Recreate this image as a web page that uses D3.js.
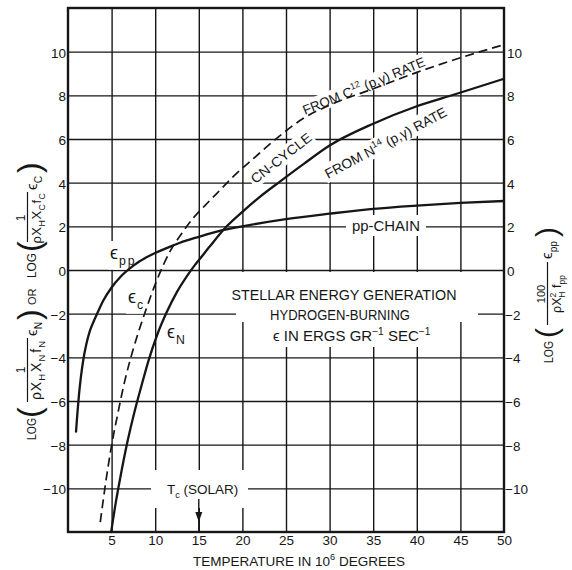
<!DOCTYPE html>
<html><head><meta charset="utf-8">
<script src="https://cdn.jsdelivr.net/npm/d3@7/dist/d3.min.js"></script>
<style>
body{margin:0;background:#fff;}
svg text{font-family:"Liberation Sans",Arial,Helvetica,sans-serif;fill:#161616;}
</style></head><body>
<svg id="chart" width="572" height="570"></svg>
<script>
// ---- data ----
const xTicks=[5,10,15,20,25,30,35,40,45,50];
const xGrid=[5,10,15,20,25,30,35,40,45];
const yTicks=[-10,-8,-6,-4,-2,0,2,4,6,8,10];

// pp-chain (solid)
const ppT  =[0.92,1.07,1.25,1.45,1.76,2.1,2.5,3.0,3.4,4.05,5,6,7.5,9,10,11.3,12.84,15,17.5,20,25,30,35,40,45,50];
const ppLog=[-7.4,-6.6,-5.75,-5.0,-4.1,-3.4,-2.8,-2.3,-1.95,-1.4,-0.8,-0.32,0.2,0.58,0.78,1.0,1.25,1.52,1.8,2.0,2.33,2.58,2.8,2.95,3.07,3.16];
// CN-cycle from C12(p,gamma) (dashed)
const cT  =[3.7,4.3,5.0,5.7,6.5,7.5,8.8,10.2,11.7,13,14.4,15.7,17.05,19,21.25,24,27,30,35,40,45,50];
const cLog=[-11.55,-9.8,-8.03,-6.6,-5.1,-3.6,-1.98,-0.46,0.85,1.65,2.4,2.95,3.5,4.3,5.1,6.05,6.95,7.55,8.3,9.05,9.72,10.32];
// CN-cycle from N14(p,gamma) (solid)
const nT  =[4.95,5.5,6.0,6.73,7.5,8.6,9.2,10.2,11.3,12.5,13.6,14.5,15.1,16.3,18.2,20.1,22,24.3,27,30,35,40,44.4,50];
const nLog=[-12,-10.6,-9.5,-8.03,-6.7,-5.05,-4.2,-3.0,-1.95,-1.0,-0.3,0.2,0.5,1.1,2.0,2.7,3.35,4.05,4.85,5.7,6.7,7.5,8.05,8.76];

const solarT=15;

// ---- drawing ----
const svg=d3.select("#chart");
const x=d3.scaleLinear().domain([0,50]).range([68,504]);
const y=d3.scaleLinear().domain([-12,12]).range([532,8]);
const ink="#161616";

const gridG=svg.append("g");
const maskG=svg.append("g");
const curveG=svg.append("g");
const frameG=svg.append("g");
const labelG=svg.append("g");

// grid lines
gridG.append("g").attr("transform",`translate(0,${y(-12)})`)
 .call(d3.axisBottom(x).tickValues(xGrid).tickSize(-(y(-12)-y(12))).tickFormat(""))
 .call(g=>g.select(".domain").remove())
 .call(g=>g.selectAll("line").attr("stroke",ink).attr("stroke-width",1.4));
gridG.append("g").attr("transform",`translate(${x(0)},0)`)
 .call(d3.axisLeft(y).tickValues(yTicks).tickSize(-(x(50)-x(0))).tickFormat(""))
 .call(g=>g.select(".domain").remove())
 .call(g=>g.selectAll("line").attr("stroke",ink).attr("stroke-width",1.4));

// tick labels
const fmt=d=>d<0?"\u2212"+(-d):String(d);
frameG.append("g").attr("transform",`translate(0,${y(-12)})`)
 .call(d3.axisBottom(x).tickValues(xTicks).tickSize(0).tickPadding(3))
 .call(g=>g.select(".domain").remove())
 .call(g=>g.selectAll("text").attr("font-size",13.5).attr("fill",ink));
frameG.append("g").attr("transform",`translate(${x(0)},0)`)
 .call(d3.axisLeft(y).tickValues(yTicks).tickSize(0).tickPadding(2).tickFormat(fmt))
 .call(g=>g.select(".domain").remove())
 .call(g=>g.selectAll("text").attr("font-size",13.5).attr("dy","0.4em").attr("fill",ink));
frameG.append("g").attr("transform",`translate(${x(50)},0)`)
 .call(d3.axisRight(y).tickValues(yTicks).tickSize(0).tickPadding(3).tickFormat(fmt))
 .call(g=>g.select(".domain").remove())
 .call(g=>g.selectAll("text").attr("font-size",13.5).attr("dy","0.4em").attr("fill",ink)
   .attr("dx",d=>d<0?-2:0));

// frame
frameG.append("rect").attr("x",x(0)).attr("y",y(12)).attr("width",x(50)-x(0)).attr("height",y(-12)-y(12))
 .attr("fill","none").attr("stroke",ink).attr("stroke-width",2.4);

// curves
const line=d3.line().x(d=>x(d[0])).y(d=>y(d[1])).curve(d3.curveMonotoneX);
curveG.append("path").datum(d3.zip(ppT,ppLog)).attr("d",line)
 .attr("fill","none").attr("stroke",ink).attr("stroke-width",2.3).attr("stroke-linecap","round");
curveG.append("path").datum(d3.zip(nT,nLog)).attr("d",line)
 .attr("fill","none").attr("stroke",ink).attr("stroke-width",2.3).attr("stroke-linecap","round");
curveG.append("path").datum(d3.zip(cT,cLog)).attr("d",line)
 .attr("fill","none").attr("stroke",ink).attr("stroke-width",1.7).attr("stroke-dasharray","9,5");

// helpers
function rich(parent,parts,size,attrs){
  const t=parent.append("text").attr("font-size",size);
  if(attrs) Object.entries(attrs).forEach(([k,v])=>t.attr(k,v));
  let cur=0;
  parts.forEach(p=>{
    const [s,k,dx,ls]=p;
    const off=k==="sub"?size*0.32:k==="sup"?-size*0.42:0;
    const fs=k==="n"?size:size*0.68;
    const ts=t.append("tspan").attr("dy",off-cur).attr("font-size",fs).text(s);
    if(dx) ts.attr("dx",dx);
    if(ls) ts.attr("letter-spacing",ls);
    cur=off;
  });
  return t;
}
function label(transform,build,padX,padY){
  const g=labelG.append("g").attr("transform",transform);
  build(g);
  const b=g.node().getBBox();
  maskG.append("rect").attr("transform",transform)
   .attr("x",b.x-padX).attr("y",b.y-padY).attr("width",b.width+2*padX).attr("height",b.height+2*padY)
   .attr("fill","#fff");
  return g;
}
function mask(x0,y0,x1,y1){maskG.append("rect").attr("x",x0).attr("y",y0).attr("width",x1-x0).attr("height",y1-y0).attr("fill","#fff");}

// curve labels
label("translate(110,259)",g=>rich(g,[["\u03f5","n"],["pp","sub",1,2]],18),2,2);
label("translate(128,303)",g=>rich(g,[["\u03f5","n"],["c","sub",1]],18),2,2);
label("translate(167,338)",g=>rich(g,[["\u03f5","n"],["N","sub",1]],18),2,2);
label("translate(281,158) rotate(-38)",g=>g.append("text").attr("font-size",13.5).attr("text-anchor","middle")
  .attr("dy","0.36em").attr("textLength",73).attr("lengthAdjust","spacingAndGlyphs").text("CN-CYCLE"),2,1);
label("translate(328,179) rotate(-28)",g=>rich(g,[["FROM N","n"],["14","sup"],[" (p,\u03b3) RATE","n"]],13.8),2,1);
label("translate(305,115) rotate(-22.2)",g=>rich(g,[["FROM C","n"],["12","sup"],[" (p,\u03b3) RATE","n"]],13.3),2,0);
label("translate(352,231)",g=>g.append("text").attr("font-size",15).attr("textLength",68)
  .attr("lengthAdjust","spacingAndGlyphs").text("pp-CHAIN"),6,2);

// central title block
mask(236,272,478,322); mask(268,322,428,347);
labelG.append("text").attr("x",344).attr("y",300).attr("font-size",15).attr("text-anchor","middle")
 .attr("textLength",225).attr("lengthAdjust","spacingAndGlyphs").text("STELLAR ENERGY GENERATION");
labelG.append("text").attr("x",340).attr("y",320).attr("font-size",15).attr("text-anchor","middle")
 .attr("textLength",140).attr("lengthAdjust","spacingAndGlyphs").text("HYDROGEN-BURNING");
rich(labelG,[["\u03f5 IN ERGS GR","n"],["\u22121","sup"],[" SEC","n"],["\u22121","sup"]],15,{x:273,y:341});

// solar central temperature marker
mask(151,470,248,508);
rich(labelG,[["T","n"],["c","sub"],[" (SOLAR)","n"]],13.5,{x:167,y:494});
labelG.append("line").attr("x1",x(solarT)).attr("x2",x(solarT)).attr("y1",499).attr("y2",y(-12))
 .attr("stroke",ink).attr("stroke-width",1.4);
labelG.append("path").attr("d",`M${x(solarT)-3.5},512 L${x(solarT)+3.5},512 L${x(solarT)},522 Z`).attr("fill",ink);

// x axis title
rich(labelG,[["TEMPERATURE IN 10","n"],["6","sup"],[" DEGREES","n"]],13.5,{x:193,y:566});

// left axis title (rotated)
const yl=labelG.append("g").attr("transform","translate(36,440) rotate(-90)");
function paren(g,xx,s,size){g.append("text").attr("x",xx).attr("y",size*0.13).attr("font-size",size).attr("font-weight",300).text(s);}
yl.append("text").attr("x",0).attr("y",0).attr("font-size",13).attr("textLength",22).attr("lengthAdjust","spacingAndGlyphs").text("LOG");
paren(yl,22,"(",32);
yl.append("text").attr("x",70).attr("y",-11).attr("font-size",12).attr("text-anchor","middle").text("1");
yl.append("line").attr("x1",38).attr("x2",102).attr("y1",-8.5).attr("y2",-8.5).attr("stroke",ink).attr("stroke-width",1.2);
rich(yl,[["\u03c1X","n"],["H","sub"],["X","n",1],["N","sub"],["f","n",1],["N","sub"]],14,{x:70,y:5,"text-anchor":"middle","letter-spacing":1});
rich(yl,[["\u03f5","n"],["N","sub"]],15,{x:104,y:1});
paren(yl,120,")",32);
yl.append("text").attr("x",135).attr("y",0).attr("font-size",11).text("OR");
yl.append("text").attr("x",162).attr("y",0).attr("font-size",13).attr("textLength",25).attr("lengthAdjust","spacingAndGlyphs").text("LOG");
paren(yl,188,"(",32);
yl.append("text").attr("x",222).attr("y",-11).attr("font-size",12).attr("text-anchor","middle").text("1");
yl.append("line").attr("x1",198).attr("x2",248).attr("y1",-8.5).attr("y2",-8.5).attr("stroke",ink).attr("stroke-width",1.2);
rich(yl,[["\u03c1X","n"],["H","sub"],["X","n"],["C","sub"],["f","n"],["C","sub"]],13,{x:222,y:5,"text-anchor":"middle","letter-spacing":0.5});
rich(yl,[["\u03f5","n"],["C","sub"]],15,{x:250,y:1});
paren(yl,267,")",32);

// right axis title (rotated)
const yr=labelG.append("g").attr("transform","translate(553,363) rotate(-90)");
yr.append("text").attr("x",0).attr("y",0).attr("font-size",12).attr("textLength",22).attr("lengthAdjust","spacingAndGlyphs").text("LOG");
paren(yr,25,"(",30);
yr.append("text").attr("x",69).attr("y",-8).attr("font-size",11).attr("text-anchor","middle").text("100");
yr.append("line").attr("x1",38).attr("x2",101).attr("y1",-5.5).attr("y2",-5.5).attr("stroke",ink).attr("stroke-width",1.2);
rich(yr,[["\u03c1X","n"],["2","sup"],["H","sub",-5],[" f","n"],["pp","sub"]],12.5,{x:69,y:8,"text-anchor":"middle"});
rich(yr,[["\u03f5","n"],["pp","sub"]],15,{x:104,y:-1});
paren(yr,126,")",30);
</script>
</body></html>
